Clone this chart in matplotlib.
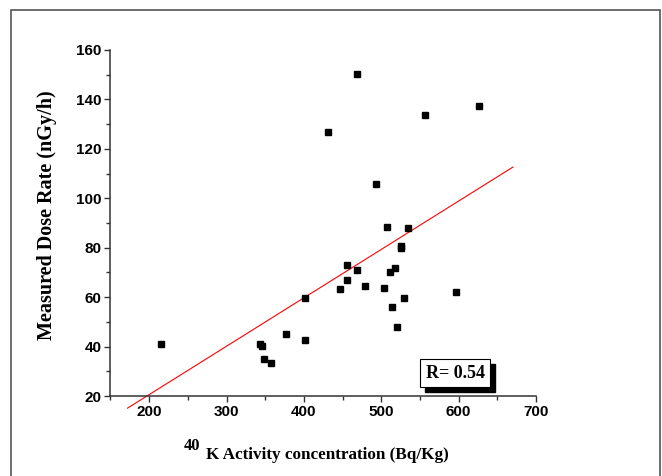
import matplotlib
matplotlib.use("Agg")
import matplotlib.pyplot as plt
from matplotlib.patches import Rectangle
from matplotlib.ticker import MultipleLocator
from matplotlib.transforms import offset_copy

# 40K activity (Bq/Kg) vs measured dose rate (nGy/h)
k40 = [215, 343, 346, 349, 357, 377, 401, 402, 431, 446, 456, 456, 468, 469,
       479, 493, 503, 507, 511, 514, 518, 520, 526, 526, 529, 534, 556, 596, 626]
dose = [41.2, 41.0, 40.1, 34.9, 33.5, 45.1, 59.5, 42.5, 127.0, 63.3, 73.0, 66.9,
        150.3, 71.0, 64.6, 105.6, 63.6, 88.3, 70.1, 56.2, 71.8, 48.0, 80.7,
        79.7, 59.5, 87.8, 133.8, 62.1, 137.2]

# linear fit line
fit_x = [172, 670]
fit_y = [15.1, 112.6]
r_label = "R= 0.54"

serif = ["Liberation Serif", "DejaVu Serif"]
sans = ["Liberation Sans", "DejaVu Sans"]

plt.rcParams["font.family"] = sans
plt.rcParams["font.weight"] = "bold"

fig = plt.figure(figsize=(6.62, 4.76), dpi=100)
ax = fig.add_axes([0.1669, 0.168, 0.6428, 0.727])

ax.plot(fit_x, fit_y, color="red", lw=0.8, clip_on=False, zorder=2)
ax.plot(k40, dose, "s", color="black", markersize=5, zorder=3)

ax.set_xlim(150, 700)
ax.set_ylim(20, 160)
ax.xaxis.set_major_locator(MultipleLocator(100))
ax.xaxis.set_minor_locator(MultipleLocator(50))
ax.yaxis.set_major_locator(MultipleLocator(20))
ax.yaxis.set_minor_locator(MultipleLocator(10))
ax.set_xticks([200, 300, 400, 500, 600, 700])

for side in ("top", "right"):
    ax.spines[side].set_visible(False)
for side in ("left", "bottom"):
    ax.spines[side].set_linewidth(1.1)
    ax.spines[side].set_color("#333333")
ax.tick_params(which="major", direction="out", length=4.5, width=1.0,
               color="#333333", labelsize=11, pad=2)
ax.tick_params(which="minor", direction="out", length=3, width=1.0, color="#333333")

ax.set_ylabel("Measured Dose Rate (nGy/h)", family=serif, fontweight="bold",
              fontsize=14.5)
ax.yaxis.set_label_coords(-0.126, 0.523)
ax.set_xlabel("K Activity concentration (Bq/Kg)", family=serif, fontweight="bold",
              fontsize=12.3)
ax.xaxis.set_label_coords(0.509, -0.148)
ax.annotate("40", xy=(0, 1), xycoords=ax.xaxis.label, xytext=(-4, 1),
            textcoords="offset points", ha="right", va="center",
            family=serif, fontweight="bold", fontsize=12)

# R box with drop shadow
shadow_tr = offset_copy(ax.transAxes, fig=fig, x=3.5, y=-3.5, units="points")
box_kw = dict(ha="center", va="center", family=serif, fontweight="bold",
              fontsize=13, zorder=5)
ax.text(0.81, 0.066, r_label, transform=shadow_tr, color="black",
        bbox=dict(boxstyle="square,pad=0.3", fc="black", ec="black"), **box_kw)
ax.text(0.81, 0.066, r_label, transform=ax.transAxes, color="black",
        bbox=dict(boxstyle="square,pad=0.3", fc="white", ec="black", lw=0.8), **box_kw)

# outer frame
fig.patches.append(Rectangle((11 / 662, -0.05), 649 / 662, 1.05 - 10 / 476,
                             transform=fig.transFigure, fill=False,
                             ec="#555555", lw=1.2))

fig.savefig("out.png", dpi=100)
